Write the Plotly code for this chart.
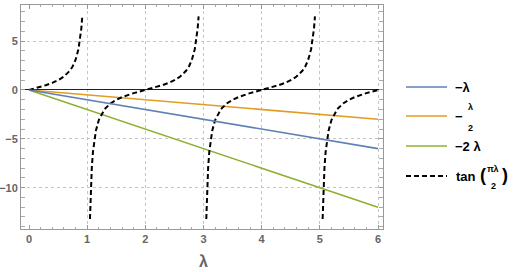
import plotly.graph_objects as go

# ---- data ----
line_x = [0, 6]
neg_lam = [0, -6]
neg_half = [0, -3]
neg_two = [0, -12]

tan_x1 = [0, 0.1, 0.2, 0.3, 0.4, 0.5, 0.6, 0.7, 0.75, 0.8, 0.85, 0.88, 0.9, 0.916]
tan_y1 = [0, 0.16, 0.32, 0.51, 0.73, 1.0, 1.38, 1.96, 2.41, 3.08, 4.17, 5.24, 6.31, 7.54]
tan_x2 = [1.048, 1.06, 1.08, 1.1, 1.15, 1.2, 1.3, 1.4, 1.5, 1.6, 1.7, 1.8, 1.9, 2.0,
          2.1, 2.2, 2.3, 2.4, 2.5, 2.6, 2.7, 2.75, 2.8, 2.85, 2.88, 2.9, 2.916]
tan_y2 = [-13.2, -10.58, -7.92, -6.31, -4.17, -3.08, -1.96, -1.38, -1.0, -0.73, -0.51, -0.32, -0.16, 0,
          0.16, 0.32, 0.51, 0.73, 1.0, 1.38, 1.96, 2.41, 3.08, 4.17, 5.24, 6.31, 7.54]
tan_x3 = [3.048, 3.06, 3.08, 3.1, 3.15, 3.2, 3.3, 3.4, 3.5, 3.6, 3.7, 3.8, 3.9, 4.0,
          4.1, 4.2, 4.3, 4.4, 4.5, 4.6, 4.7, 4.75, 4.8, 4.85, 4.88, 4.9, 4.916]
tan_y3 = tan_y2
tan_x4 = [5.048, 5.06, 5.08, 5.1, 5.15, 5.2, 5.3, 5.4, 5.5, 5.6, 5.7, 5.8, 5.9, 6.0]
tan_y4 = [-13.2, -10.58, -7.92, -6.31, -4.17, -3.08, -1.96, -1.38, -1.0, -0.73, -0.51, -0.32, -0.16, 0]

x_ticks = [0, 1, 2, 3, 4, 5, 6]
y_ticks = [-10, -5, 0, 5]
names = ["−λ", "−λ/2", "−2λ", "tan(πλ/2)"]
x_title = "λ"

# ---- style ----
W, H = 515, 272
L, R, T, B = 21, 383, 5, 229
BLUE, ORANGE, GREEN = "#5E81B5", "#E19C24", "#8FB032"
TICKC = "#666666"
FONT = "Liberation Sans"

tan_x = tan_x1 + [None] + tan_x2 + [None] + tan_x3 + [None] + tan_x4
tan_y = tan_y1 + [None] + tan_y2 + [None] + tan_y3 + [None] + tan_y4

fig = go.Figure()
fig.add_trace(go.Scatter(x=line_x, y=neg_lam, mode="lines", name=names[0],
                         line=dict(color=BLUE, width=1.6), xaxis="x2"))
fig.add_trace(go.Scatter(x=line_x, y=neg_half, mode="lines", name=names[1],
                         line=dict(color=ORANGE, width=1.6)))
fig.add_trace(go.Scatter(x=line_x, y=neg_two, mode="lines", name=names[2],
                         line=dict(color=GREEN, width=1.6)))
fig.add_trace(go.Scatter(x=tan_x, y=tan_y, mode="lines", name=names[3],
                         line=dict(color="black", width=2, dash="5px,3px")))

xr = [-0.1375, 6.086]
yr = [-14.23, 8.70]
GRIDC = "#c4c4c4"

fig.update_layout(
    width=W, height=H, showlegend=False,
    margin=dict(l=L, r=W - R, t=T, b=H - B, autoexpand=False),
    paper_bgcolor="white", plot_bgcolor="white",
    font=dict(family=FONT),
    xaxis=dict(range=xr, tickvals=x_ticks, showgrid=False, zeroline=False, automargin=False,
               ticks="inside", ticklen=4, tickcolor="#999", mirror="allticks",
               showline=True, linecolor="#999", linewidth=1,
               tickfont=dict(size=11, color=TICKC, weight="bold"),
               minor=dict(dtick=0.2, ticks="inside", ticklen=2, tickcolor="#aaa")),
    xaxis2=dict(range=xr, tickvals=[1, 2, 3, 4, 5, 6], overlaying="x", showticklabels=False,
                showgrid=True, gridcolor=GRIDC, griddash="dot", gridwidth=1, automargin=False,
                zeroline=False, ticks="", showline=False, side="bottom"),
    yaxis=dict(range=yr, tickvals=y_ticks, showgrid=True, gridcolor=GRIDC, griddash="dot",
               zeroline=True, zerolinecolor="#222", zerolinewidth=1.3, automargin=False,
               ticks="inside", ticklen=4, tickcolor="#999", mirror="allticks",
               showline=True, linecolor="#999", linewidth=1,
               tickfont=dict(size=11, color=TICKC, weight="bold"),
               minor=dict(dtick=1, ticks="inside", ticklen=2, tickcolor="#aaa")),
)

def px(x):
    return (x - L) / (R - L)

def py(y):
    return (B - y) / (B - T)

# axis title
fig.add_annotation(xref="x", yref="paper", x=3, y=py(261), text="<b>" + x_title + "</b>",
                   showarrow=False, xanchor="center", yanchor="middle", borderpad=0,
                   font=dict(size=16, color=TICKC, family=FONT))

legend_rows = [(87, BLUE, "solid"), (116, ORANGE, "solid"), (146, GREEN, "solid"), (176, "black", "5px,3px")]
for yy, c, d in legend_rows:
    fig.add_shape(type="line", xref="paper", yref="paper",
                  x0=px(406), x1=px(447), y0=py(yy), y1=py(yy),
                  line=dict(color=c, width=2 if c == "black" else 1.6, dash=d))

def txt(x, y, s, size=12, anchor="left"):
    fig.add_annotation(xref="paper", yref="paper", x=px(x), y=py(y), text="<b>" + s + "</b>",
                       showarrow=False, xanchor=anchor, yanchor="middle", borderpad=0,
                       font=dict(size=size, color="black", family=FONT))

txt(454, 87, "−λ", 13)
txt(454, 116, "−", 13)
txt(470, 107, "λ", 9, "center")
txt(470, 128, "2", 9, "center")
txt(454, 146, "−2 λ", 13)
txt(455, 176, "tan", 13)
txt(479, 175, "(", 18)
txt(493, 169, "πλ", 9, "center")
txt(493, 186, "2", 9, "center")
txt(501, 175, ")", 18)

fig.write_html("out.html", config={"displayModeBar": False},
               post_script="document.body.style.margin='0';document.body.style.padding='0';")
